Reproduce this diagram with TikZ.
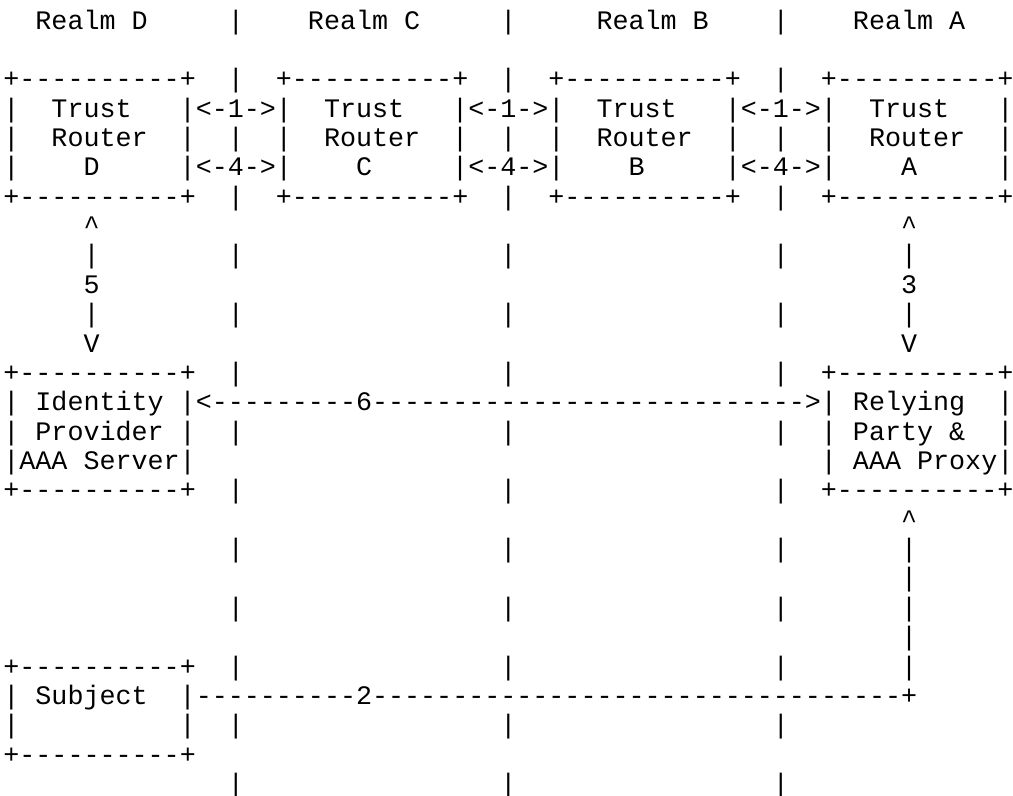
\documentclass[tikz,border=0pt]{standalone}
\usepackage{fontspec}
\usepackage{tikz}
\newfontfamily\asciifont{Liberation Mono}
\newcommand{\cellt}[4]{\node[ascii] (#1) at (#2,#3) {#4};}
\newcommand{\cellbox}[4]{\node[ascii] (#1) at (#2,#3) {+----------+};
  \node[ascii] (#1-bot) at (#2,#3+#4+1) {+----------+};
  \foreach \r in {1,...,#4} {\node[ascii] (#1-l\r) at (#2,#3+\r) {|}; \node[ascii] (#1-r\r) at (#2+11,#3+\r) {|};}}

\begin{document}
\begin{tikzpicture}[x=8.015pt, y=-14.68pt,
    ascii/.style={anchor=mid west, inner sep=0pt, outer sep=0pt, font=\fontsize{13.36pt}{14.68pt}\asciifont}]
        \useasboundingbox (-1.7pt,12.4pt) rectangle (504.8pt,-385.6pt);
        % realm borders
        \foreach \r in {0,2,...,26} {
            \foreach \c in {14,31,48} {
                \cellt{sep\c-\r}{\c}{\r}{|}
            }
        }
        % row 0
        \cellt{realmD}{2}{0}{Realm D}
        \cellt{realmC}{19}{0}{Realm C}
        \cellt{realmB}{37}{0}{Realm B}
        \cellt{realmA}{53}{0}{Realm A}
        % trust routers
        \cellbox{trD}{0}{2}{3}
        \cellbox{trC}{17}{2}{3}
        \cellbox{trB}{34}{2}{3}
        \cellbox{trA}{51}{2}{3}
        \cellt{trD-a}{3}{3}{Trust}
        \cellt{trC-a}{20}{3}{Trust}
        \cellt{trB-a}{37}{3}{Trust}
        \cellt{trA-a}{54}{3}{Trust}
        \cellt{trD-b}{3}{4}{Router}
        \cellt{trC-b}{20}{4}{Router}
        \cellt{trB-b}{37}{4}{Router}
        \cellt{trA-b}{54}{4}{Router}
        \cellt{trD-c}{5}{5}{D}
        \cellt{trC-c}{22}{5}{C}
        \cellt{trB-c}{39}{5}{B}
        \cellt{trA-c}{56}{5}{A}
        % links 1 and 4
        \cellt{dc1}{12}{3}{<-1->}
        \cellt{cb1}{29}{3}{<-1->}
        \cellt{ba1}{46}{3}{<-1->}
        \cellt{dc4}{12}{5}{<-4->}
        \cellt{cb4}{29}{5}{<-4->}
        \cellt{ba4}{46}{5}{<-4->}
        % links 5 and 3
        \cellt{up5}{5}{7}{\textasciicircum}
        \cellt{la5}{5}{8}{|}
        \cellt{n5}{5}{9}{5}
        \cellt{lb5}{5}{10}{|}
        \cellt{dn5}{5}{11}{V}
        \cellt{up3}{56}{7}{\textasciicircum}
        \cellt{la3}{56}{8}{|}
        \cellt{n3}{56}{9}{3}
        \cellt{lb3}{56}{10}{|}
        \cellt{dn3}{56}{11}{V}
        % idp and rp
        \cellbox{idp}{0}{12}{3}
        \cellbox{rp}{51}{12}{3}
        \cellt{idp-a}{2}{13}{Identity}
        \cellt{idp-b}{2}{14}{Provider}
        \cellt{idp-c}{1}{15}{AAA Server}
        \cellt{rp-a}{53}{13}{Relying}
        \cellt{rp-b}{53}{14}{Party \&}
        \cellt{rp-c}{53}{15}{AAA Proxy}
        \cellt{link6}{12}{13}{<---------6--------------------------->}
        % subject
        \cellbox{subj}{0}{22}{2}
        \cellt{subj-a}{2}{23}{Subject}
        \cellt{link2}{12}{23}{----------2---------------------------------+}
        \cellt{up2}{56}{17}{\textasciicircum}
        \foreach \r in {18,...,22} {
            \cellt{l2-\r}{56}{\r}{|}
        }
    \end{tikzpicture}
\end{document}
